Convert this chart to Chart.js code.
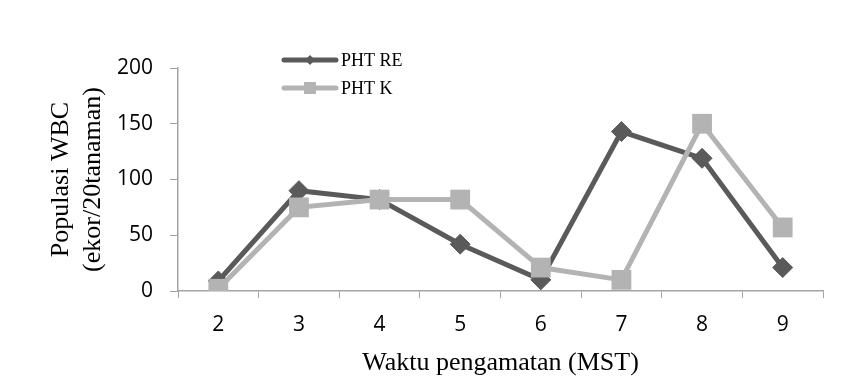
<!DOCTYPE html>
<html>
<head>
<meta charset="utf-8">
<script src="https://cdn.jsdelivr.net/npm/chart.js@4"></script>
<style>
  html, body { margin: 0; padding: 0; background: #fff; }
  #wrap { width: 864px; height: 381px; }
</style>
</head>
<body>
<div id="wrap"><canvas id="chart" width="864" height="381"></canvas></div>
<script>
// data
const categories = ['2', '3', '4', '5', '6', '7', '8', '9'];
const phtRE = [9, 90, 82, 42, 10, 143, 119, 21];
const phtK = [2, 75, 82, 82, 21, 10, 150, 57];
const seriesNames = ['PHT RE', 'PHT K'];
const yTicks = [0, 50, 100, 150, 200];

const darkGray = '#5a5a5a';
const lightGray = '#b3b3b3';
const axisGray = '#a3a3a3';

// legend drawn inside the plot, top-left (like the Excel original)
const insideLegend = {
  id: 'insideLegend',
  afterDraw(chart) {
    const ctx = chart.ctx;
    const rows = [60, 88];
    chart.data.datasets.forEach((ds, i) => {
      const y = rows[i];
      ctx.save();
      ctx.strokeStyle = ds.borderColor;
      ctx.lineWidth = 5;
      ctx.lineCap = 'round';
      ctx.beginPath();
      ctx.moveTo(284, y);
      ctx.lineTo(336, y);
      ctx.stroke();
      ctx.fillStyle = ds.borderColor;
      if (ds.pointStyle === 'rectRot') {
        ctx.beginPath();
        ctx.moveTo(310, y - 5);
        ctx.lineTo(315, y);
        ctx.lineTo(310, y + 5);
        ctx.lineTo(305, y);
        ctx.closePath();
        ctx.fill();
      } else {
        ctx.fillRect(304, y - 6, 12, 12);
      }
      ctx.fillStyle = '#000';
      ctx.font = '18px "Liberation Serif"';
      ctx.textBaseline = 'middle';
      ctx.textAlign = 'left';
      ctx.fillText(ds.label, 341, y + 1);
      ctx.restore();
    });
  }
};

new Chart(document.getElementById('chart'), {
  type: 'line',
  data: {
    labels: categories,
    datasets: [
      {
        label: seriesNames[0],
        data: phtRE,
        borderColor: darkGray,
        backgroundColor: darkGray,
        borderWidth: 5,
        pointStyle: 'rectRot',
        pointRadius: 10,
        pointBorderWidth: 1,
        pointBackgroundColor: darkGray,
        pointBorderColor: darkGray,
        tension: 0,
        order: 2
      },
      {
        label: seriesNames[1],
        data: phtK,
        borderColor: lightGray,
        backgroundColor: lightGray,
        borderWidth: 5,
        pointStyle: 'rect',
        pointRadius: 14,
        pointBorderWidth: 0,
        pointBackgroundColor: lightGray,
        pointBorderColor: lightGray,
        tension: 0,
        order: 1
      }
    ]
  },
  options: {
    responsive: false,
    animation: false,
    layout: { padding: { left: 0, top: 68, right: 41, bottom: 0 } },
    plugins: {
      legend: { display: false },
      tooltip: { enabled: false }
    },
    scales: {
      x: {
        offset: true,
        grid: { offset: true, drawOnChartArea: false, color: axisGray, tickLength: 7 },
        border: { color: axisGray, width: 1.5 },
        ticks: { color: '#000', padding: 14, font: { family: '"Open Sans"', size: 21 } },
        title: {
          display: true,
          text: 'Waktu pengamatan (MST)',
          color: '#000',
          font: { family: '"Liberation Serif"', size: 26, lineHeight: 1.2 },
          padding: { top: 0, bottom: 2 }
        },
        afterFit(scale) { scale.height = 90; }
      },
      y: {
        min: 0,
        max: 200,
        afterBuildTicks(scale) { scale.ticks = yTicks.map(v => ({ value: v })); },
        grid: { drawOnChartArea: false, color: axisGray, tickLength: 8 },
        border: { color: axisGray, width: 1.5 },
        ticks: { color: '#000', padding: 17, font: { family: '"Open Sans"', size: 21 } },
        title: {
          display: true,
          text: ['Populasi WBC', '(ekor/20tanaman)'],
          color: '#000',
          font: { family: '"Liberation Serif"', size: 26, lineHeight: 1.2 },
          padding: { top: 46, bottom: 0 }
        },
        afterFit(scale) { scale.width = 178; }
      }
    }
  },
  plugins: [insideLegend]
});
</script>
</body>
</html>
